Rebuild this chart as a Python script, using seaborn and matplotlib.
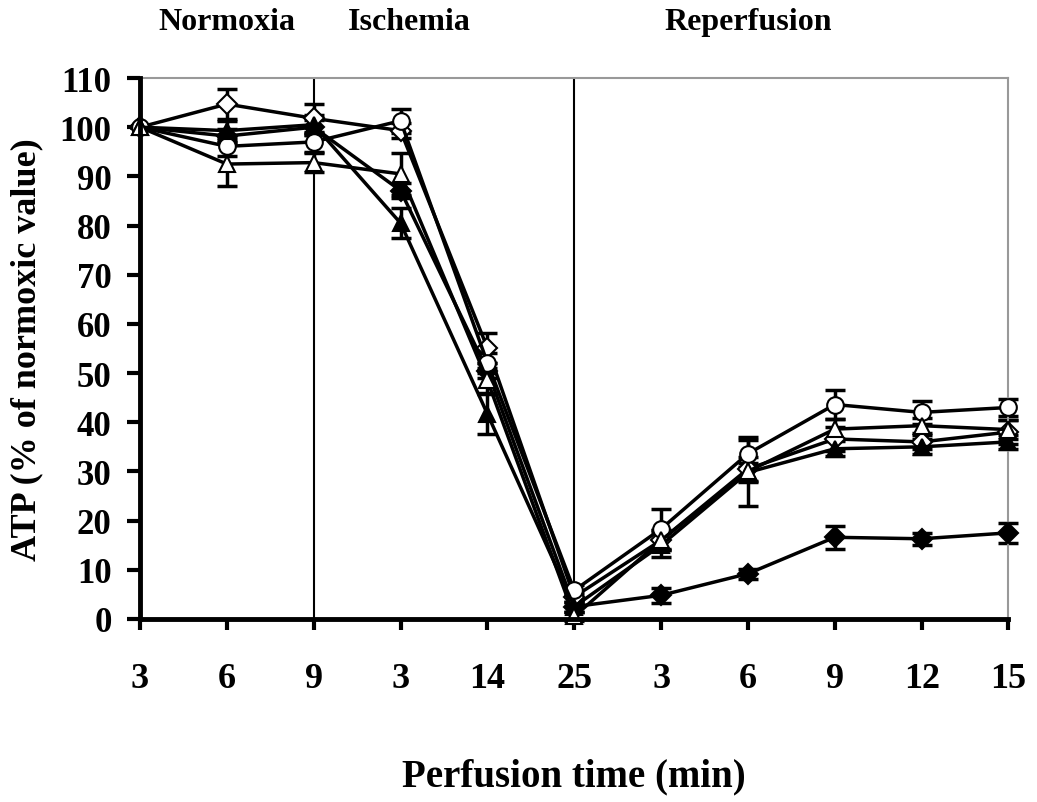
import matplotlib
matplotlib.use("Agg")
import matplotlib.pyplot as plt
import seaborn as sns
import numpy as np
import pandas as pd
from matplotlib.transforms import blended_transform_factory

# ---- data ----
x_labels = ["3", "6", "9", "3", "14", "25", "3", "6", "9", "12", "15"]
phases = ["Normoxia", "Ischemia", "Reperfusion"]
phase_pos = [1.0, 3.1, 7.0]

filled_diamond = [100, 98.2, 100.0, 87.1, 50.5, 2.5, 4.8, 9.2, 16.6, 16.3, 17.5]
filled_diamond_err = [0, 1.5, 1.5, 1.5, 1.5, 1.0, 1.5, 1.0, 2.3, 1.2, 2.0]

open_diamond = [100, 104.7, 101.8, 99.3, 55.1, 4.5, 16.0, 30.5, 36.6, 36.0, 38.0]
open_diamond_err = [0, 3.0, 3.0, 1.5, 3.0, 1.0, 2.0, 2.5, 2.5, 1.5, 2.5]

open_circle = [100, 96.1, 97.0, 101.3, 52.1, 5.8, 18.3, 33.6, 43.6, 42.0, 43.0]
open_circle_err = [0, 2.0, 2.0, 2.5, 2.0, 1.0, 4.0, 2.8, 3.0, 2.3, 1.8]

filled_triangle = [100, 99.3, 100.5, 80.5, 41.7, 2.5, 15.0, 29.8, 34.6, 35.0, 36.0]
filled_triangle_err = [0, 2.0, 2.0, 3.0, 4.0, 1.0, 2.5, 2.0, 1.5, 1.5, 1.5]

open_triangle = [100, 92.5, 92.8, 90.5, 48.5, 0.5, 16.0, 30.0, 38.6, 39.3, 38.5]
open_triangle_err = [0, 4.5, 2.0, 4.2, 2.5, 1.0, 2.0, 7.0, 2.0, 1.5, 2.0]

series = [
    ("Filled diamond", filled_diamond, filled_diamond_err, "D", "black"),
    ("Open diamond", open_diamond, open_diamond_err, "D", "white"),
    ("Open circle", open_circle, open_circle_err, "o", "white"),
    ("Filled triangle", filled_triangle, filled_triangle_err, "^", "black"),
    ("Open triangle", open_triangle, open_triangle_err, "^", "white"),
]

sns.set_theme(style="white")
plt.rcParams["font.family"] = ["Liberation Serif", "DejaVu Serif"]
plt.rcParams["font.weight"] = "bold"
plt.rcParams["text.color"] = "black"
plt.rcParams["axes.labelcolor"] = "black"
plt.rcParams["xtick.color"] = "black"
plt.rcParams["ytick.color"] = "black"

fig = plt.figure(figsize=(10.37, 8.03), dpi=100)
ax = fig.add_axes([0.135, 0.228, 0.8375, 0.6736])

xs = np.arange(len(x_labels))

# vertical phase separators
ax.axvline(2, color="black", lw=1.5, zorder=1)
ax.axvline(5, color="black", lw=1.5, zorder=1)

for name, vals, err, mk, fc in series:
    df = pd.DataFrame({"x": xs, "y": vals})
    eb = ax.errorbar(xs, vals, yerr=err, fmt="none", ecolor="black",
                     elinewidth=2.5, capsize=7, capthick=2.5, zorder=2)
    for art in eb.get_children():
        art.set_clip_on(False)
    sns.lineplot(data=df, x="x", y="y", ax=ax, color="black", lw=2.5,
                 marker=mk, markersize=12 if mk != "D" else 10,
                 markerfacecolor=fc, markeredgecolor="black",
                 markeredgewidth=1.5, zorder=3, clip_on=False)

ax.set_xlim(0, 10)
ax.set_ylim(0, 110)
ax.set_xticks(xs)
ax.set_xticklabels(x_labels, fontsize=26, fontweight="bold")
ax.set_yticks(np.arange(0, 111, 10))
ax.set_yticklabels([str(v) for v in range(0, 111, 10)], fontsize=25, fontweight="bold")
ax.tick_params(axis="x", direction="out", length=8, width=3, pad=23, color="black", bottom=True)
ax.tick_params(axis="y", direction="out", length=9.5, width=3, pad=11, color="black", left=True)

ax.set_xlabel("Perfusion time (min)", fontsize=28, fontweight="bold", labelpad=45)
ax.set_ylabel("ATP (% of normoxic value)", fontsize=26, fontweight="bold", labelpad=12)

for side in ["left", "bottom"]:
    ax.spines[side].set_color("black")
    ax.spines[side].set_linewidth(3.5)
    ax.spines[side].set_zorder(5)
for side in ["top", "right"]:
    ax.spines[side].set_color("#999999")
    ax.spines[side].set_linewidth(1.5)

tr = blended_transform_factory(ax.transData, ax.transAxes)
for p, pos in zip(phases, phase_pos):
    ax.text(pos, 1.105, p, transform=tr, ha="center", va="center",
            fontsize=23, fontweight="bold")

fig.savefig("out.png", dpi=100)
